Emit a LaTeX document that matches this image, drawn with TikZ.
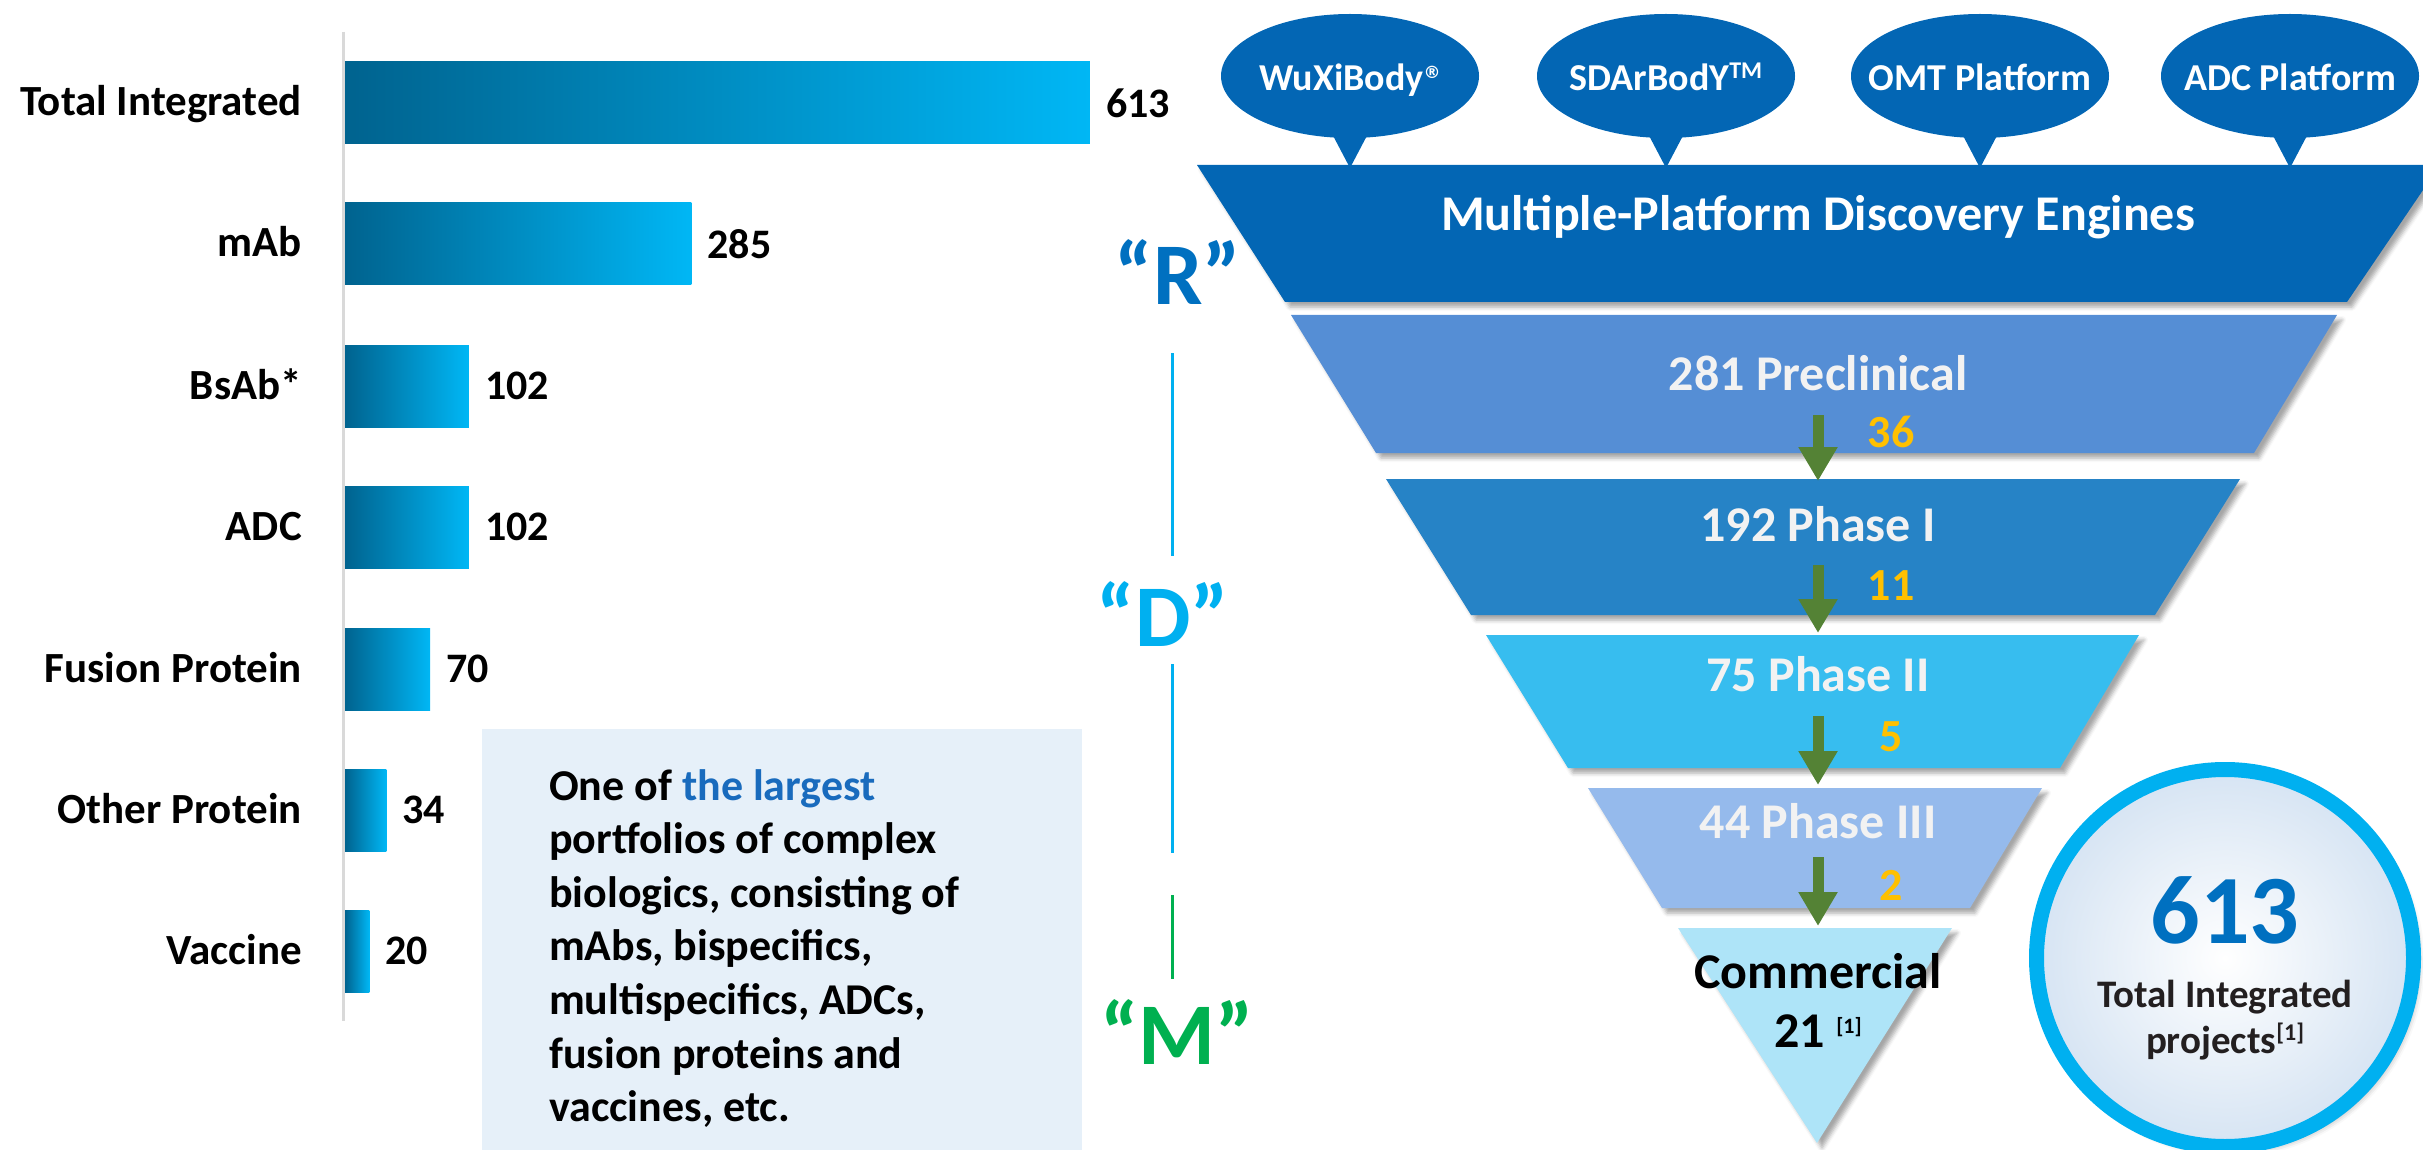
\documentclass[tikz,border=0pt]{standalone}
\usepackage{fontspec}
\setmainfont{Carlito}
\newfontfamily\regsym{DejaVu Sans}
\usetikzlibrary{arrows.meta,shadows.blur,shapes.geometric}
\definecolor{bardark}{RGB}{0,99,143}
\definecolor{barlight}{RGB}{0,183,245}
\definecolor{axisgray}{RGB}{217,217,217}
\definecolor{bubbleblue}{RGB}{3,102,180}
\definecolor{ftwo}{RGB}{85,142,213}
\definecolor{fthree}{RGB}{38,131,198}
\definecolor{ffour}{RGB}{55,189,239}
\definecolor{ffive}{RGB}{149,186,236}
\definecolor{fsix}{RGB}{174,228,248}
\definecolor{arrowgreen}{RGB}{84,130,53}
\definecolor{goldnum}{RGB}{255,192,0}
\definecolor{rblue}{RGB}{0,112,192}
\definecolor{dblue}{RGB}{0,176,240}
\definecolor{mgreen}{RGB}{0,176,80}
\definecolor{boxfill}{RGB}{230,240,249}
\definecolor{largestblue}{RGB}{25,107,189}
\definecolor{ringblue}{RGB}{0,176,240}
\definecolor{darktext}{RGB}{35,31,32}
\definecolor{stagewhite}{RGB}{242,242,242}
\begin{document}
\begin{tikzpicture}[x=1pt,y=-1pt,
  catlab/.style={anchor=base east,inner sep=0pt,font=\fontsize{43}{50}\selectfont\bfseries},
  vallab/.style={anchor=west,inner sep=0pt,font=\fontsize{42}{50}\selectfont\bfseries},
  barnode/.style={anchor=west,inner sep=0pt,outer sep=0pt,minimum height=82pt,left color=bardark,right color=barlight},
  rdm/.style={anchor=base,inner sep=0pt,font=\fontsize{88}{90}\selectfont\bfseries},
  sideline/.style={line width=3pt},
  boxtext/.style={anchor=base west,inner sep=0pt,font=\fontsize{44}{53}\selectfont\bfseries},
  bubble/.style={ellipse,fill=bubbleblue,minimum width=258pt,minimum height=124pt,inner sep=0pt},
  bubtext/.style={anchor=base,inner sep=0pt,text=white,font=\fontsize{38}{40}\selectfont\bfseries},
  fshadow/.style={blur shadow={shadow xshift=5pt,shadow yshift=-5pt,shadow blur radius=4pt,shadow opacity=35}},
  stagetext/.style={anchor=base,inner sep=0pt,text=stagewhite,font=\fontsize{50}{52}\selectfont\bfseries},
  goldtext/.style={anchor=base,inner sep=0pt,text=goldnum,font=\fontsize{46}{48}\selectfont\bfseries},
  flow/.style={draw=arrowgreen,line width=11pt,-{Triangle[length=34pt,width=37pt]}},
  comtext/.style={anchor=base,inner sep=0pt,text=black,font=\fontsize{50}{52}\selectfont\bfseries}
]
\useasboundingbox (0,0) rectangle (2423,1150);

% ---------- bar chart ----------
\coordinate (axtop) at (343,32);
\coordinate (axbot) at (343,1021);
\draw[axisgray,line width=3pt] (axtop) -- (axbot);
\foreach \n/\lab/\val/\yc in {tot/Total Integrated/613/103, mab/mAb/285/244, bsab/BsAb*/102/386, adc/ADC/102/527, fus/Fusion Protein/70/669, oth/Other Protein/34/810, vac/Vaccine/20/951}{
  \node[barnode,minimum width={1.2153*\val}] (bar\n) at (345,\yc) {};
  \node[vallab] (val\n) at ([xshift=16pt]bar\n.east) {\val};
  \node[catlab] (lab\n) at (302,\yc+13) {\lab};
}

% ---------- text box ----------
\node[fill=boxfill,anchor=north west,inner sep=0pt,minimum width=600pt,minimum height=440pt] (box) at (482,729) {};
\node[boxtext] (bt1) at (549,800) {One of \textcolor{largestblue}{the largest}};
\node[boxtext] (bt2) at (549,853.6) {portfolios of complex};
\node[boxtext] (bt3) at (549,907.2) {biologics, consisting of};
\node[boxtext] (bt4) at (549,960.8) {mAbs, bispecifics,};
\node[boxtext] (bt5) at (549,1014.4) {multispecifics, ADCs,};
\node[boxtext] (bt6) at (549,1068) {fusion proteins and};
\node[boxtext] (bt7) at (549,1121.6) {vaccines, etc.};

% ---------- R D M ----------
\node[rdm,text=rblue] (R) at (1178,305) {“R”};
\node[rdm,text=dblue] (D) at (1163,646) {“D”};
\node[rdm,text=mgreen] (M) at (1177,1064) {“M”};
\coordinate (l1a) at (1172,353); \coordinate (l1b) at (1172,556);
\coordinate (l2a) at (1172,664); \coordinate (l2b) at (1172,853);
\coordinate (l3a) at (1172,895); \coordinate (l3b) at (1172,979);
\draw[sideline,dblue] (l1a) -- (l1b);
\draw[sideline,dblue] (l2a) -- (l2b);
\draw[sideline,mgreen] (l3a) -- (l3b);

% ---------- bubbles ----------
\foreach \cx/\nm in {1350/b1,1666/b2,1980/b3,2290/b4}{
  \fill[bubbleblue] (\cx-21,128) -- (\cx+21,128) -- (\cx,168) -- cycle;
  \node[bubble] (\nm) at (\cx,76) {};
}
\node[bubtext] (b1t) at (1350,91) {WuXiBody\raisebox{12pt}{\regsym\fontsize{17}{17}\selectfont ®}};
\node[bubtext] (b2t) at (1666,91) {SDArBodY\raisebox{12pt}{\fontsize{24}{24}\selectfont TM}};
\node[bubtext] (b3t) at (1980,91) {OMT Platform};
\node[bubtext] (b4t) at (2290,91) {ADC Platform};

% ---------- funnel ----------
\fill[bubbleblue,fshadow] (1197,165) -- (2440,165) -- (2347,302) -- (1285,302) -- cycle;
\fill[ftwo,fshadow] (1291,315) -- (2337,315) -- (2254,453) -- (1376,453) -- cycle;
\fill[fthree,fshadow] (1386,479) -- (2240,479) -- (2155,615) -- (1471,615) -- cycle;
\fill[ffour,fshadow] (1486,635) -- (2139,635) -- (2060,768) -- (1568,768) -- cycle;
\fill[ffive,fshadow] (1588,788) -- (2042,788) -- (1970,908) -- (1662,908) -- cycle;
\fill[fsix,fshadow] (1678,928) -- (1952,928) -- (1817,1143) -- cycle;

\node[anchor=base,inner sep=0pt,text=white,font=\fontsize{50}{52}\selectfont\bfseries] (eng) at (1818,231) {Multiple-Platform Discovery Engines};
\node[stagetext] (s1) at (1818,390) {281 Preclinical};
\node[stagetext] (s2) at (1818,541) {192 Phase I};
\node[stagetext] (s3) at (1818,691) {75 Phase II};
\node[stagetext] (s4) at (1818,838) {44 Phase III};

\coordinate (a1s) at (1818,415); \coordinate (a1e) at (1818,481);
\coordinate (a2s) at (1818,565); \coordinate (a2e) at (1818,633);
\coordinate (a3s) at (1818,716); \coordinate (a3e) at (1818,785);
\coordinate (a4s) at (1818,857); \coordinate (a4e) at (1818,926);
\draw[flow] (a1s) -- (a1e);
\draw[flow] (a2s) -- (a2e);
\draw[flow] (a3s) -- (a3e);
\draw[flow] (a4s) -- (a4e);
\node[goldtext] (g1) at (1891,447) {36};
\node[goldtext] (g2) at (1891,600) {11};
\node[goldtext] (g3) at (1891,751) {5};
\node[goldtext] (g4) at (1891,900) {2};

\node[comtext] (com) at (1818,988) {Commercial};
\node[comtext] (com21) at (1818,1047) {21 \raisebox{14pt}{\fontsize{22}{22}\selectfont [1]}};

% ---------- circle ----------
\node[circle,draw=ringblue,line width=15pt,minimum size=377pt,inner sep=0pt,inner color=white,outer color={rgb,255:red,214;green,228;blue,243},blur shadow={shadow xshift=5pt,shadow yshift=-5pt,shadow blur radius=6pt,shadow opacity=35}] (circ) at (2225,958) {};
\node[anchor=base,inner sep=0pt,text=rblue,font=\fontsize{98}{100}\selectfont\bfseries] (big) at (2225,943) {613};
\node[anchor=base,inner sep=0pt,text=darktext,font=\fontsize{39}{40}\selectfont\bfseries] (ct1) at (2225,1007) {Total Integrated};
\node[anchor=base,inner sep=0pt,text=darktext,font=\fontsize{39}{40}\selectfont\bfseries] (ct2) at (2225,1053) {projects\raisebox{13pt}{\fontsize{24}{24}\selectfont [1]}};
\end{tikzpicture}
\end{document}
